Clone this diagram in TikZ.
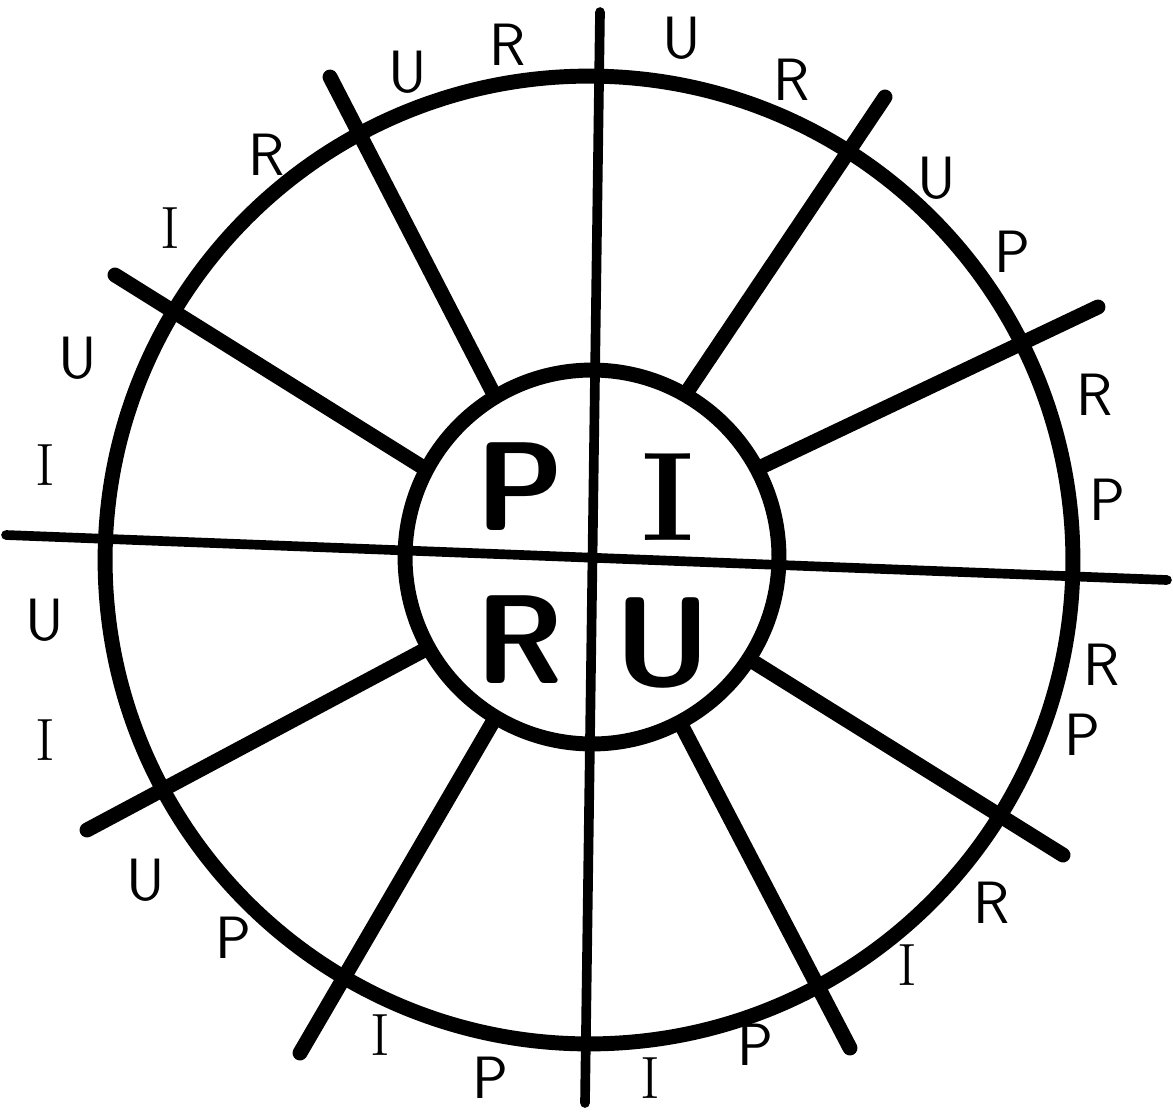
\documentclass[tikz,border=0pt]{standalone}
\usepackage{tikz}
\usetikzlibrary{positioning}
\newcommand{\barI}{\textrm{I}}
\tikzset{
  rim/.style   ={draw, circle, line width=8.5pt, inner sep=0pt},
  spk/.style   ={line width=8.5pt, line cap=round},
  axisline/.style={line width=5.5pt, line cap=round},
  rimltr/.style={font=\sffamily\fontsize{34}{34}\selectfont, inner sep=0pt},
  hubltr/.style={font=\sffamily\bfseries\fontsize{72}{72}\selectfont, inner sep=0pt},
}
\begin{document}
\begin{tikzpicture}[x=0.02cm, y=-0.02cm]
\useasboundingbox (0,0) rectangle (1173,1113);
% wheel
\node[rim, minimum size=19.36cm] (outer) at (589,560) {};
\node[rim, minimum size=7.48cm] (hub) at (592,557) {};
% axes through the hub
\coordinate (vtop) at (600,12); \coordinate (vbot) at (585,1103);
\coordinate (hlft) at (6,535);  \coordinate (hrgt) at (1167,580);
\draw[axisline] (vtop) -- (vbot);
\draw[axisline] (hlft) -- (hrgt);
% spokes
\coordinate (s1) at (330,77);  \coordinate (s2) at (115,275);
\coordinate (s3) at (87,830);  \coordinate (s4) at (300,1053);
\coordinate (s5) at (850,1048); \coordinate (s6) at (1063,855);
\coordinate (s7) at (1098,307); \coordinate (s8) at (885,97);
\draw[spk] (hub.121) -- (s1); \draw[spk] (hub.152) -- (s2);
\draw[spk] (hub.209) -- (s3); \draw[spk] (hub.239) -- (s4);
\draw[spk] (hub.298) -- (s5); \draw[spk] (hub.327) -- (s6);
\draw[spk] (hub.28) -- (s7);  \draw[spk] (hub.60) -- (s8);
% hub letters
\node[hubltr] (hp) at (520,487) {P};
\node[hubltr] (hi) at (668,497) {\barI};
\node[hubltr] (hr) at (520,640) {R};
\node[hubltr] (hu) at (663,643) {U};
% letters round the rim
\node[rimltr] (u1) at (682,38) {U};   \node[rimltr] (r1) at (792,80) {R};
\node[rimltr] (u2) at (937,178) {U};  \node[rimltr] (p1) at (1012,252) {P};
\node[rimltr] (r2) at (1095,395) {R}; \node[rimltr] (p2) at (1107,500) {P};
\node[rimltr] (r3) at (1102,665) {R}; \node[rimltr] (p3) at (1082,735) {P};
\node[rimltr] (r4) at (992,903) {R};  \node[rimltr] (i1) at (907,965) {\barI};
\node[rimltr] (p4) at (755,1045) {P}; \node[rimltr] (i2) at (650,1078) {\barI};
\node[rimltr] (p5) at (490,1078) {P}; \node[rimltr] (i3) at (380,1035) {\barI};
\node[rimltr] (p6) at (233,938) {P};  \node[rimltr] (u3) at (146,880) {U};
\node[rimltr] (i4) at (45,740) {\barI};   \node[rimltr] (u4) at (45,620) {U};
\node[rimltr] (i5) at (45,465) {\barI};   \node[rimltr] (u5) at (78,358) {U};
\node[rimltr] (i6) at (170,228) {\barI};  \node[rimltr] (r5) at (267,155) {R};
\node[rimltr] (u6) at (408,72) {U};   \node[rimltr] (r6) at (508,45) {R};
\end{tikzpicture}
\end{document}
